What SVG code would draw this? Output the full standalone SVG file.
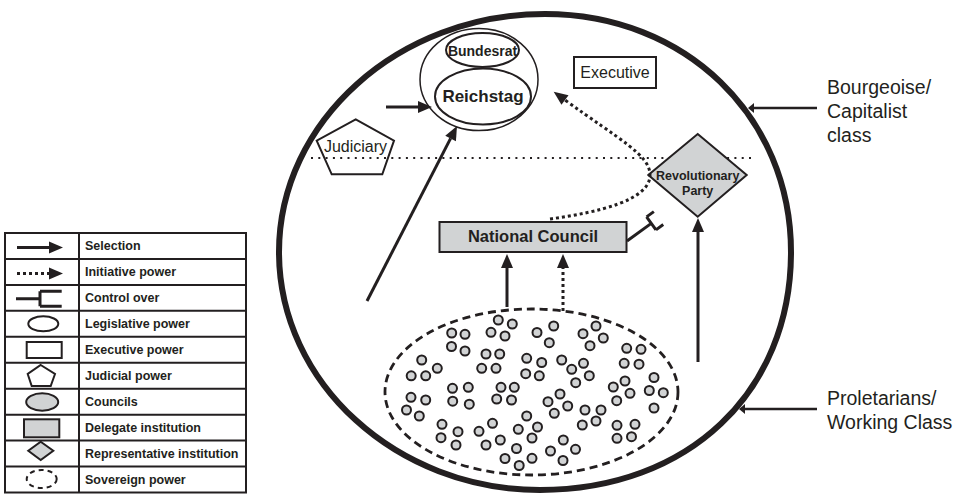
<svg xmlns="http://www.w3.org/2000/svg" width="963" height="499" viewBox="0 0 963 499">
<defs>
<style>
text{font-family:"Liberation Sans",Arial,Helvetica,sans-serif;fill:#231f20}
.b{font-weight:bold}
.k{stroke:#231f20;fill:none}
.w{fill:#fff;stroke:#231f20;stroke-width:2}
.g{fill:#d1d3d4;stroke:#231f20;stroke-width:2}
.sel{stroke:#231f20;stroke-width:3;fill:none;marker-end:url(#head)}
.ini{stroke:#231f20;stroke-width:3;fill:none;stroke-dasharray:3 3;marker-end:url(#head)}
.ctl{stroke:#231f20;stroke-width:3;fill:none}
.cell{fill:#d1d3d4;stroke:#231f20;stroke-width:2}
.pt{stroke:#231f20;stroke-width:2.5;fill:none;marker-end:url(#pin)}
.lg{font-size:12.5px;font-weight:bold}
.side{font-size:19.5px}
</style>
<marker id="head" markerUnits="userSpaceOnUse" markerWidth="15" markerHeight="12" refX="0" refY="6" orient="auto" overflow="visible">
<path d="M0,0 L14,6 L0,12 z" fill="#231f20"/>
</marker>
<marker id="pin" markerUnits="userSpaceOnUse" markerWidth="7" markerHeight="10" refX="0" refY="5" orient="auto" overflow="visible">
<path d="M0,0 L6,5 L0,10 z" fill="#231f20"/>
</marker>
<circle id="cc" r="4.5" class="cell"/>
</defs>

<rect width="963" height="499" fill="#fff"/>

<!-- class boundary and divider -->
<g id="society">
<path d="M545,14 C685.2,14 791,116.3 791,252 C791,392.4 688.1,490 540,490 C396.5,490 279,382.9 279,252 C279,121.1 398.7,14 545,14 Z" class="k" stroke-width="6"/>
<line x1="311" y1="158" x2="755" y2="158" class="k" stroke-width="2" stroke-dasharray="2 5.3"/>
</g>

<g id="parliament">
<ellipse cx="479" cy="79.5" rx="59" ry="51" class="k" stroke-width="1.5"/>
<ellipse cx="482.5" cy="50" rx="36.5" ry="17" class="k" stroke-width="2"/>
<text x="482.5" y="56" font-size="14" class="b" text-anchor="middle">Bundesrat</text>
<ellipse cx="483" cy="96.5" rx="48" ry="28" class="k" stroke-width="2"/>
<text x="483" y="102" font-size="17" class="b" text-anchor="middle">Reichstag</text>
</g>

<g id="executive">
<rect x="574" y="57" width="82" height="31" class="w"/>
<text x="615" y="78" font-size="16" text-anchor="middle">Executive</text>
</g>

<g id="judiciary">
<polygon points="355.7,119.3 394,140.7 382.3,174.3 331.7,174.3 316.7,140.7" class="k" stroke-width="2"/>
<text x="355.5" y="152" font-size="16" text-anchor="middle">Judiciary</text>
</g>

<g id="revolutionary-party">
<polygon points="697.7,134 746.7,175 697.7,216.7 648.3,175" class="g"/>
<text x="697.7" y="179.5" font-size="12.5" class="b" text-anchor="middle">Revolutionary</text>
<text x="697.7" y="194.5" font-size="12.5" class="b" text-anchor="middle">Party</text>
</g>

<g id="national-council">
<rect x="439.5" y="222" width="187" height="30" class="g"/>
<text x="533" y="242" font-size="16.5" class="b" text-anchor="middle">National Council</text>
</g>

<g id="sovereign">
<ellipse cx="531.5" cy="392" rx="146.5" ry="83" class="k" stroke-width="2.8" stroke-dasharray="8 5"/>
<g id="councils">
<use href="#cc" x="451.7" y="333"/><use href="#cc" x="465" y="334.3"/><use href="#cc" x="451.5" y="346.5"/><use href="#cc" x="465" y="351"/>
<use href="#cc" x="498.3" y="320"/><use href="#cc" x="512.3" y="324"/><use href="#cc" x="491" y="332.3"/><use href="#cc" x="505" y="336"/>
<use href="#cc" x="537" y="332.5"/><use href="#cc" x="553.7" y="326"/><use href="#cc" x="549.3" y="342.7"/>
<use href="#cc" x="596" y="326"/><use href="#cc" x="583" y="333.7"/><use href="#cc" x="603.3" y="338"/><use href="#cc" x="590" y="345.7"/>
<use href="#cc" x="626.7" y="348.3"/><use href="#cc" x="641" y="349.3"/><use href="#cc" x="624.2" y="363.3"/><use href="#cc" x="639" y="364.2"/>
<use href="#cc" x="421.7" y="360"/><use href="#cc" x="437.3" y="368.3"/><use href="#cc" x="411.2" y="375.8"/><use href="#cc" x="425.7" y="375.8"/>
<use href="#cc" x="486" y="354"/><use href="#cc" x="499.7" y="354"/><use href="#cc" x="481.7" y="368.3"/><use href="#cc" x="496" y="368.3"/>
<use href="#cc" x="526.7" y="358.3"/><use href="#cc" x="541.7" y="362.5"/><use href="#cc" x="525.7" y="373.7"/><use href="#cc" x="539.3" y="375.8"/>
<use href="#cc" x="561.7" y="360"/><use href="#cc" x="571.7" y="369.3"/><use href="#cc" x="583.5" y="363.3"/><use href="#cc" x="589.3" y="375.7"/><use href="#cc" x="575.7" y="382.7"/>
<use href="#cc" x="625" y="381"/><use href="#cc" x="613.3" y="387"/><use href="#cc" x="630" y="393.3"/><use href="#cc" x="616.7" y="400.7"/>
<use href="#cc" x="654" y="377.5"/><use href="#cc" x="649.3" y="390.5"/><use href="#cc" x="663.3" y="392.7"/><use href="#cc" x="654" y="408"/>
<use href="#cc" x="411" y="397.3"/><use href="#cc" x="425.7" y="400"/><use href="#cc" x="406.5" y="410"/><use href="#cc" x="419.3" y="416"/>
<use href="#cc" x="452.5" y="388.3"/><use href="#cc" x="468.3" y="387.3"/><use href="#cc" x="452.7" y="401.2"/><use href="#cc" x="469.3" y="404.2"/>
<use href="#cc" x="501" y="387.3"/><use href="#cc" x="514.3" y="387.3"/><use href="#cc" x="496.7" y="399"/><use href="#cc" x="511.5" y="400"/>
<use href="#cc" x="560" y="394"/><use href="#cc" x="548" y="401.7"/><use href="#cc" x="567.7" y="406"/><use href="#cc" x="554.3" y="413.3"/>
<use href="#cc" x="585" y="410"/><use href="#cc" x="601" y="410"/><use href="#cc" x="582.3" y="425"/><use href="#cc" x="596" y="421"/>
<use href="#cc" x="617" y="425.3"/><use href="#cc" x="635" y="424.3"/><use href="#cc" x="617" y="438.3"/><use href="#cc" x="631.5" y="436.7"/>
<use href="#cc" x="442" y="424.3"/><use href="#cc" x="458" y="431.7"/><use href="#cc" x="441" y="437.7"/><use href="#cc" x="456" y="445"/>
<use href="#cc" x="492.5" y="423.3"/><use href="#cc" x="479" y="431.3"/><use href="#cc" x="500.3" y="440"/><use href="#cc" x="486" y="445"/>
<use href="#cc" x="526.7" y="416"/><use href="#cc" x="537.5" y="427"/><use href="#cc" x="518.3" y="429.3"/><use href="#cc" x="532" y="438"/>
<use href="#cc" x="516.5" y="448.5"/><use href="#cc" x="505" y="458.5"/><use href="#cc" x="532" y="458.3"/><use href="#cc" x="519.2" y="465.5"/>
<use href="#cc" x="563.3" y="440"/><use href="#cc" x="550.5" y="451"/><use href="#cc" x="575.5" y="449.3"/><use href="#cc" x="563" y="460.5"/>
</g>
</g>

<!-- relations between the bodies -->
<g id="connectors">
<line x1="386" y1="107" x2="418" y2="107" class="sel"/>
<line x1="367" y1="301" x2="450.6" y2="138.4" class="sel"/>
<line x1="507" y1="307" x2="507" y2="268" class="sel"/>
<line x1="563" y1="311" x2="563" y2="268" class="ini"/>
<line x1="698" y1="362" x2="698" y2="232" class="sel"/>
<path d="M550,219 C600,212 650,200 650,175 C650,155 620,140 565,100" class="ini"/>
<g transform="translate(627,241) rotate(-36)"><path d="M0,0 H30 M30,-8 V8 M30,-8 H39 M30,8 H39" class="ctl"/></g>
</g>

<g id="class-labels">
<line x1="817" y1="108" x2="754" y2="108" class="pt"/>
<text class="side" x="827" y="94">Bourgeoise/</text>
<text class="side" x="827" y="118">Capitalist</text>
<text class="side" x="827" y="142">class</text>
<line x1="817" y1="409" x2="745" y2="409" class="pt"/>
<text class="side" x="827" y="405">Proletarians/</text>
<text class="side" x="827" y="428.5">Working Class</text>
</g>

<g id="legend">
<rect x="5" y="233" width="241" height="259.5" class="k" stroke-width="2"/>
<path d="M79,233 V492.5 M5,258.95 H246 M5,284.9 H246 M5,310.85 H246 M5,336.8 H246 M5,362.75 H246 M5,388.7 H246 M5,414.65 H246 M5,440.6 H246 M5,466.55 H246" class="k" stroke-width="2"/>
<line x1="17" y1="247.5" x2="49" y2="247.5" class="sel"/>
<line x1="17" y1="273.5" x2="49" y2="273.5" class="ini"/>
<path d="M16,298.7 H40 M40,291.3 V306.3 M40,291.3 H61.7 M40,306.3 H61.7" class="ctl"/>
<ellipse cx="43.3" cy="323.8" rx="15" ry="7.5" class="k" stroke-width="2"/>
<rect x="26.7" y="342" width="35" height="16" class="k" stroke-width="2"/>
<polygon points="40.7,365 55,374 50.7,386 31.7,386 27.7,374" class="k" stroke-width="2"/>
<ellipse cx="42.2" cy="402" rx="16" ry="8.7" class="g"/>
<rect x="24" y="419.3" width="35.3" height="18" class="g"/>
<polygon points="40.7,441.7 53.3,450.8 40.7,460 28.3,450.8" class="g"/>
<ellipse cx="41.7" cy="479" rx="15" ry="9" class="k" stroke-width="2" stroke-dasharray="5 4"/>
<text class="lg" x="85" y="250.4">Selection</text>
<text class="lg" x="85" y="276.4">Initiative power</text>
<text class="lg" x="85" y="302.3">Control over</text>
<text class="lg" x="85" y="328.3">Legislative power</text>
<text class="lg" x="85" y="354.2">Executive power</text>
<text class="lg" x="85" y="380.2">Judicial power</text>
<text class="lg" x="85" y="406.1">Councils</text>
<text class="lg" x="85" y="432.1">Delegate institution</text>
<text class="lg" x="85" y="458">Representative institution</text>
<text class="lg" x="85" y="484">Sovereign power</text>
</g>
</svg>
